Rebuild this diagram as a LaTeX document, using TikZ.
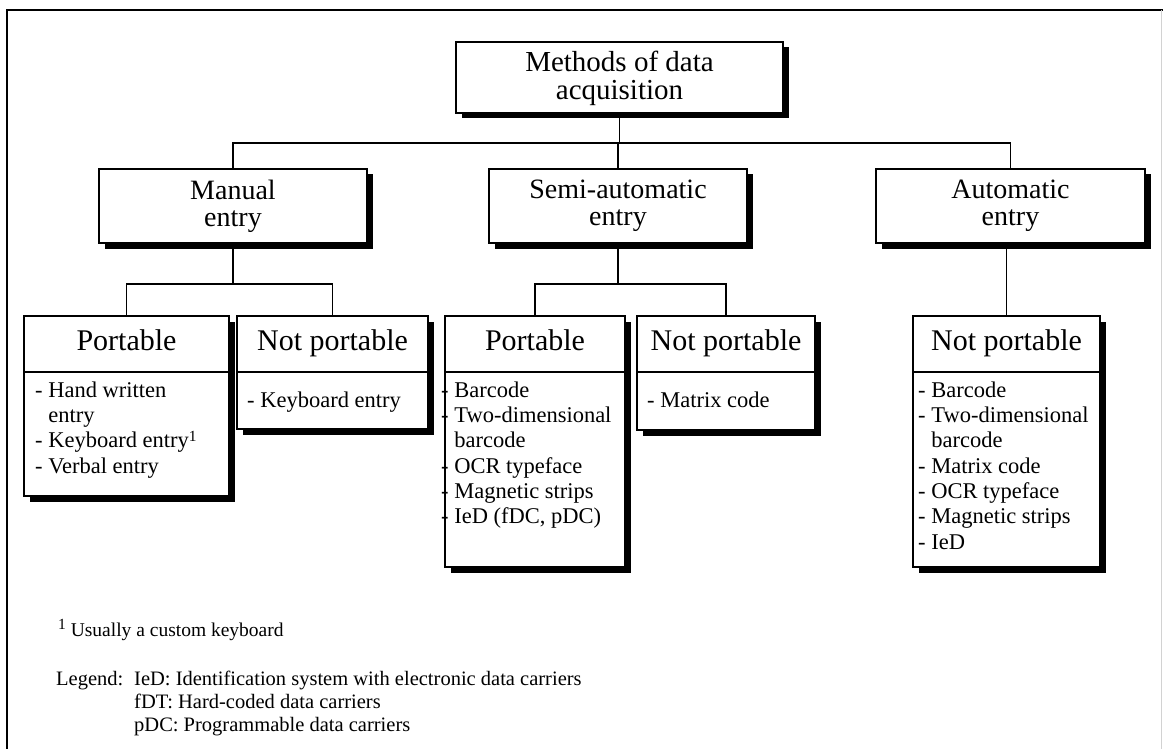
\documentclass[tikz,border=0pt]{standalone}
\usepackage{fontspec}
\setmainfont{Liberation Serif}
\usetikzlibrary{shadows,calc}

% raised footnote mark, drawn larger than \textsuperscript
\newcommand{\fnmark}[1]{\raisebox{6.5pt}{\fontsize{15.5}{15.5}\selectfont #1}}

\begin{document}
\begin{tikzpicture}[x=1pt,y=-1pt,
  box/.style={draw, line width=1.7pt, fill=white, inner sep=0pt,
    drop shadow={shadow xshift=5.5pt, shadow yshift=-5.5pt, opacity=1, fill=black}},
  conn/.style={line width=1.3pt},
  toptext/.style={font=\fontsize{29}{28}\selectfont, align=center, inner sep=0pt},
  midtext/.style={font=\fontsize{28}{27}\selectfont, align=center, inner sep=0pt},
  hdr/.style={font=\fontsize{30}{32}\selectfont, inner sep=0pt, anchor=base},
  items/.style={font=\fontsize{22.5}{25.3}\selectfont, align=left, inner sep=0pt, anchor=north west},
  note/.style={font=\fontsize{20.5}{23}\selectfont, inner sep=0pt}]

\useasboundingbox (0,0) rectangle (1163,749);

% outer frame
\draw[line width=1.8pt] (1163,10) -- (7,10) -- (7,749);
\draw[gray!35, line width=0.8pt] (1161.5,10) -- (1161.5,749);

% levels of the tree
\coordinate (busY) at (0,143);
\coordinate (subY) at (0,284);

\node[box, minimum width=327pt, minimum height=71pt] (top) at (619.5,77.5) {};
\node[toptext] (toplbl) at (619.5,78) {Methods of data\\acquisition};

\node[box, minimum width=268pt, minimum height=74pt] (manual) at (233,206) {};
\node[box, minimum width=258pt, minimum height=74pt] (semi) at (618,206) {};
\node[box, minimum width=269pt, minimum height=74pt] (auto) at (1010.5,206) {};
\node[midtext] (manuallbl) at (manual.center) {Manual\\entry};
\node[midtext] (semilbl) at (semi.center) {Semi-automatic\\entry};
\node[midtext] (autolbl) at (auto.center) {Automatic\\entry};

% leaf boxes
\node[box, minimum width=205pt, minimum height=180pt] (mp) at (126.5,406) {};
\node[box, minimum width=191pt, minimum height=113pt] (mn) at (332.5,372.5) {};
\node[box, minimum width=180pt, minimum height=251pt] (sp) at (535,441.5) {};
\node[box, minimum width=178pt, minimum height=114pt] (sn) at (726,373) {};
\node[box, minimum width=187pt, minimum height=251pt] (an) at (1006.5,441.5) {};

% header separators
\foreach \b in {mp,mn,sp,sn,an}
  \draw[line width=1.7pt] ($(\b.north west)+(0,57)$) -- ($(\b.north east)+(0,57)$);

% headers
\node[hdr] (mph) at ($(mp.north)+(0,35)$) {Portable};
\node[hdr] (mnh) at ($(mn.north)+(0,35)$) {Not portable};
\node[hdr] (sph) at ($(sp.north)+(0,35)$) {Portable};
\node[hdr] (snh) at ($(sn.north)+(0,35)$) {Not portable};
\node[hdr] (anh) at ($(an.north)+(0,35)$) {Not portable};

% item lists
\node[items] (mpi) at (35,380) {\rule{0pt}{17pt}- Hand written\\\phantom{- }entry\\- Keyboard entry\fnmark{1}\\- Verbal entry};
\node[items] (mni) at (247,390) {\rule{0pt}{17pt}- Keyboard entry};
\node[items] (spi) at (441,380) {\rule{0pt}{17pt}- Barcode\\- Two-dimensional\\\phantom{- }barcode\\- OCR typeface\\- Magnetic strips\\- IeD (fDC, pDC)};
\node[items] (sni) at (647,390) {\rule{0pt}{17pt}- Matrix code};
\node[items] (ani) at (918,380) {\rule{0pt}{17pt}- Barcode\\- Two-dimensional\\\phantom{- }barcode\\- Matrix code\\- OCR typeface\\- Magnetic strips\\- IeD};

% connectors
\draw[conn] (top.south) -- (top.south |- busY);
\draw[conn] (manual.north) -- (manual.north |- busY) -- (auto.north |- busY) -- (auto.north);
\draw[conn] (semi.north) -- (semi.north |- busY);

\draw[conn] (manual.south) -- (manual.south |- subY);
\draw[conn] (mp.north) -- (mp.north |- subY) -- (mn.north |- subY) -- (mn.north);
\draw[conn] (semi.south) -- (semi.south |- subY);
\draw[conn] (sp.north) -- (sp.north |- subY) -- (sn.north |- subY) -- (sn.north);
\draw[conn] (auto.south -| an.north) -- (an.north);

% footnote and legend
\node[note, anchor=base west, font=\fontsize{19.5}{22}\selectfont] (fn) at (58,636) {\fnmark{1} Usually a custom keyboard};
\node[note, anchor=base west] (lg) at (56,685) {Legend:};
\node[note, align=left, anchor=north west] (lgi) at (134,670) {\rule{0pt}{15pt}IeD: Identification system with electronic data carriers\\fDT: Hard-coded data carriers\\pDC: Programmable data carriers};

\end{tikzpicture}
\end{document}
